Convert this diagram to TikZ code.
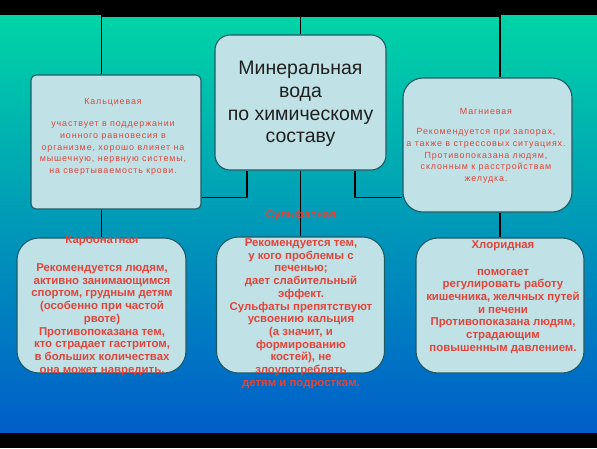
\documentclass[tikz,border=0pt]{standalone}
\usepackage{fontspec}
\setmainfont{Liberation Sans}
\usepackage{tikz}
\definecolor{teal1}{RGB}{0,212,166}
\definecolor{cyan1}{RGB}{22,180,226}
\definecolor{blue1}{RGB}{0,94,202}
\definecolor{boxfill}{RGB}{192,226,230}
\definecolor{boxedge}{RGB}{30,90,100}
\definecolor{txtred}{RGB}{226,68,58}
\newfontfamily\spaced[LetterSpace=10]{Liberation Sans}

\begin{document}
\begin{tikzpicture}[x=1pt,y=-1pt]
\tikzstyle{box}=[rectangle, draw=boxedge, fill=boxfill, line width=1.1pt, inner sep=0pt]
\tikzstyle{small}=[align=center, inner sep=0pt, anchor=north, text=txtred, font=\spaced\fontsize{8.9}{11.6}\selectfont]
\tikzstyle{big}=[align=center, inner sep=0pt, anchor=north, text=txtred, font=\bfseries\fontsize{11.4}{12.7}\selectfont]
\tikzstyle{connect}=[black, line width=1.3pt]

\useasboundingbox (0,0) rectangle (597,448);
	\fill[black] (0,0) rectangle (597,448);
	\shade[top color=teal1, middle color=cyan1, bottom color=blue1] (0,15.5) rectangle (597,432);

	\node[box, rounded corners=15pt, minimum width=171pt, minimum height=135pt] (wat) at (300.5,102.5) {};
	\node[box, rounded corners=5pt, minimum width=170pt, minimum height=134pt] (ca) at (116,142) {};
	\node[box, rounded corners=20pt, minimum width=169pt, minimum height=134pt] (mg) at (487.5,145) {};

	\node[box, rounded corners=22pt, minimum width=169pt, minimum height=135pt] (co3) at (101.5,305.5) {};
	\node[box, rounded corners=22pt, minimum width=168pt, minimum height=136pt] (so4) at (300.5,305) {};
	\node[box, rounded corners=22pt, minimum width=168pt, minimum height=135pt] (cl) at (500,305.5) {};

	\coordinate (bus) at (300.5,16);
	\coordinate (jl) at (247,197.7);
	\coordinate (jr) at (355,197.7);

	\draw[connect] (co3.north |- ca.north) -- (co3.north |- bus) -- (cl.north |- bus) -- (cl.north |- mg.north);
	\draw[connect] (wat.north) -- (wat.north |- bus);
	\draw[connect] (ca.south -| co3.north) -- (co3.north);
	\draw[connect] (mg.south -| cl.north) -- (cl.north);
	\draw[connect] (wat.south) -- (so4.north);
	\draw[connect] (wat.south -| jl) -- (jl) -- (ca.east |- jl);
	\draw[connect] (wat.south -| jr) -- (jr) -- (mg.west |- jr);

	\node[align=center, inner sep=0pt, anchor=north, text=black!88, font=\fontsize{19.5}{22.7}\selectfont] (twat) at (300.5,61) {Минеральная\\ вода\\ по химическому\\ составу};

	\node[small] (tca) at (113,98.5) {Кальциевая\\[10.4pt] участвует в поддержании\\ ионного равновесия в\\ организме, хорошо влияет на\\ мышечную, нервную системы,\\ на свертываемость крови.};
	\node[small] (tmg) at (486,108.5) {Магниевая\\[8.4pt] Рекомендуется при запорах,\\ а также в стрессовых ситуациях.\\ Противопоказана людям,\\ склонным к расстройствам\\ желудка.};

	\node[big] (tco3) at (102,235) {Карбонатная\\[15.3pt] Рекомендуется людям,\\ активно занимающимся\\ спортом, грудным детям\\ (особенно при частой\\ рвоте)\\ Противопоказана тем,\\ кто страдает гастритом,\\ в больших количествах\\ она может навредить.};
	\node[big] (tso4) at (301,210) {Сульфатная\\[15.4pt] Рекомендуется тем,\\ у кого проблемы с\\ печенью;\\ дает слабительный\\ эффект.\\ Сульфаты препятствуют\\ усвоению кальция\\ (а значит, и\\ формированию\\ костей), не\\ злоупотреблять\\ детям и подросткам.};
	\node[big] (tcl) at (503,240) {Хлоридная\\[14.3pt] помогает\\ регулировать работу\\ кишечника, желчных путей\\ и печени\\ Противопоказана людям,\\ страдающим\\ повышенным давлением.};

\end{tikzpicture}
\end{document}
